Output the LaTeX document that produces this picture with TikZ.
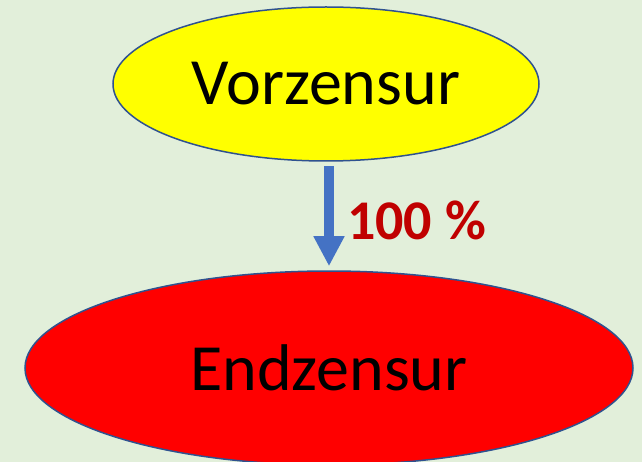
\documentclass[tikz,border=0pt]{standalone}
\usepackage{fontspec}
\setmainfont{Carlito}
\usepackage{tikz}
\usetikzlibrary{arrows.meta}
\usetikzlibrary{shapes.geometric}
\definecolor{bggreen}{HTML}{E2EFDA}
\definecolor{edgeblue}{HTML}{2F528F}
\definecolor{arrowblue}{HTML}{4472C4}
\definecolor{pctred}{HTML}{C00000}
\definecolor{preyellow}{HTML}{FFFF00}
\definecolor{finalred}{HTML}{FF0000}
\tikzstyle{stage}=[ellipse,draw=edgeblue,line width=1.5pt,inner sep=0pt,font=\fontsize{66}{70}\selectfont]
\tikzstyle{flowhead}=[>/.tip={Triangle[length=30pt,width=29pt]}]
\tikzstyle{flow}=[line width=10pt,draw=arrowblue,flowhead,->]
\tikzstyle{share}=[text=pctred,font=\fontsize{56}{60}\selectfont\bfseries,inner sep=0pt]

\begin{document}
\begin{tikzpicture}[x=1pt,y=-1pt]
	\fill[bggreen] (0,0) rectangle (642,462);
	\useasboundingbox (0,0) rectangle (642,462);
	\clip (0,0) rectangle (642,462);
	\node[stage,fill=preyellow,minimum width=426pt,minimum height=154pt] (vor) at (326,84) {Vorzensur};
	\node[stage,fill=finalred,minimum width=608pt,minimum height=194pt] (end) at (329,368) {Endzensur};
	\draw[flow,shorten <=4.7pt,shorten >=4pt] (end.north |- vor.south) -- (end.north);
	\node[share,anchor=base west] (pct) at (347,240) {100 \%};
\end{tikzpicture}
\end{document}
